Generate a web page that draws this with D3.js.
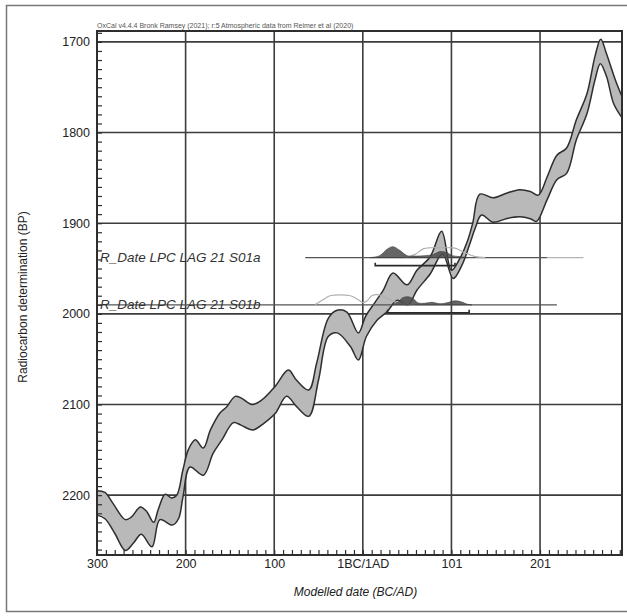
<!DOCTYPE html>
<html>
<head>
<meta charset="utf-8">
<script src="https://cdn.jsdelivr.net/npm/d3@7"></script>
<style>
  html, body { margin: 0; padding: 0; background: #fff; }
  svg { display: block; font-family: "Liberation Sans", Arial, sans-serif; }
</style>
</head>
<body>
<svg id="chart" width="627" height="616"></svg>
<script>
// Calendar axis: years relative to the 1BC/1AD boundary (BC negative)
const xTickValues = [-300, -200, -100, 0, 100, 200];
const xTickLabels = ["300", "200", "100", "1BC/1AD", "101", "201"];
const yTickValues = [1700, 1800, 1900, 2000, 2100, 2200];

// IntCal20 curve envelope, upper (younger) edge: [calendar year, BP]
const curveUpper = [
  [-300,2195],[-291,2197],[-282,2209],[-268,2227],[-261,2224],[-251,2213],[-244,2218],
  [-236,2230],[-231,2216],[-223,2199],[-216,2203],[-210,2200],[-203,2172],[-197,2150],
  [-189,2139],[-180,2148],[-172,2128],[-161,2109],[-154,2103],[-144,2091],[-137,2093],
  [-125,2100],[-114,2095],[-99,2080],[-84,2062],[-75,2073],[-61,2084],[-52,2054],
  [-39,2005],[-29,1996],[-18,1998],[-5,2021],[3,2003],[14,1987],[23,1974],[34,1955],
  [50,1968],[61,1952],[76,1937],[89,1909],[100,1952],[110,1938],[118,1920],[124,1900],
  [132,1868],[147,1872],[162,1867],[177,1863],[189,1865],[198,1869],[208,1849],
  [219,1825],[230,1817],[241,1786],[253,1757],[262,1716],[268.5,1697],[275,1713],
  [285,1742],[292,1759]
];
// lower (older) edge
const curveLower = [
  [-300,2222],[-291,2226],[-280,2242],[-268,2261],[-259,2253],[-250,2243],[-238,2257],
  [-229,2227],[-215,2233],[-208,2226],[-203,2202],[-195,2169],[-180,2178],[-169,2154],
  [-159,2139],[-146,2120],[-137,2123],[-124,2128],[-112,2121],[-99,2110],[-86,2091],
  [-75,2102],[-61,2113],[-50,2073],[-39,2025],[-29,2021],[-14,2036],[-5,2051],[4,2025],
  [16,2007],[27,1998],[39,1985],[51,1990],[61,1974],[76,1956],[90,1934],[102,1961],
  [112,1946],[120,1925],[127,1905],[134,1891],[147,1899],[162,1895],[177,1893],
  [189,1895],[196,1898],[208,1874],[219,1852],[230,1845],[241,1808],[253,1779],
  [262,1742],[268,1724],[275,1738],[283,1768],[292,1783]
];

// Radiocarbon dates
const dateNames = ["R_Date LPC LAG 21 S01a", "R_Date LPC LAG 21 S01b"];
const dateBP = [1938, 1990];
const dateLineFrom = [-65, -300];
const dateLineTo = [208, 219];
const dateTailTo = [249, 219];
const dateRangeFrom = [14, 28];
const dateRangeTo = [104, 120];

// posterior (modelled) probability, relative
const postS01aT = [8,19,28,34,42,50,59,70,79,87,95,101,110,118];
const postS01aP = [0,0.18,0.8,1,0.64,0.18,0.14,0.18,0.27,0.55,0.45,0.18,0.09,0];
const postS01bT = [33,40,45,51,57,62,70,78,87,95,104,111,118,123];
const postS01bP = [0,0.27,0.64,0.73,0.55,0.18,0.14,0.23,0.09,0.18,0.36,0.27,0.05,0];
// likelihood (unmodelled) probability, relative
const likeS01aT = [48,59,68,76,93,104,115,127,138];
const likeS01aP = [0,0.3,0.8,0.9,0.9,0.86,0.45,0.09,0];
const likeS01bT = [-54,-45,-37,-14,-5,0,5,10,19,26,36,48,59];
const likeS01bP = [0,0.45,0.82,0.82,0.45,0.2,0.36,0.82,0.9,0.64,0.27,0.09,0];

const posterior = [d3.zip(postS01aT, postS01aP), d3.zip(postS01bT, postS01bP)];
const likelihood = [d3.zip(likeS01aT, likeS01aP), d3.zip(likeS01bT, likeS01bP)];

const svg = d3.select("#chart");
const W = 627, H = 616;
const pL = 97, pR = 622, pT = 31, pB = 555;

const x = d3.scaleLinear().domain([-300, 292.5]).range([pL, pR]);
const y = d3.scaleLinear().domain([1688, 2266]).range([pT, pB]);
const probH = 11;

svg.append("rect").attr("width", W).attr("height", H).attr("fill", "#fff");
// outer frame
svg.append("rect").attr("x", 6.5).attr("y", 5.5).attr("width", 640).attr("height", 606)
  .attr("fill", "none").attr("stroke", "#777").attr("stroke-width", 1.5);

svg.append("text").attr("x", pL).attr("y", 28)
  .attr("font-size", 7).attr("fill", "#555")
  .text("OxCal v4.4.4 Bronk Ramsey (2021); r:5 Atmospheric data from Reimer et al (2020)");

// grid
const grid = svg.append("g").attr("stroke", "#3c3c3c").attr("stroke-width", 1.6);
grid.selectAll("line.h").data(yTickValues).join("line").attr("class", "h")
  .attr("x1", pL).attr("x2", pR).attr("y1", d => y(d)).attr("y2", d => y(d));
grid.selectAll("line.v").data(xTickValues.slice(1)).join("line").attr("class", "v")
  .attr("y1", pT).attr("y2", pB).attr("x1", d => x(d)).attr("x2", d => x(d));

// calibration curve band
const line = d3.line().x(d => x(d[0])).y(d => y(d[1])).curve(d3.curveCatmullRom.alpha(0.5));
const upPath = line(curveUpper);
const loPath = line(curveLower.slice().reverse());
svg.append("path").attr("d", upPath + "L" + loPath.slice(1) + "Z")
  .attr("fill", "#b9b9b9").attr("stroke", "none");
[upPath, line(curveLower)].forEach(p => svg.append("path").attr("d", p)
  .attr("fill", "none").attr("stroke", "#2e2e2e").attr("stroke-width", 1.5));

// radiocarbon dates
const rows = svg.append("g");
dateNames.forEach((name, i) => {
  const yb = y(dateBP[i]);
  rows.append("line").attr("x1", x(dateLineTo[i])).attr("x2", x(dateTailTo[i]))
    .attr("y1", yb).attr("y2", yb).attr("stroke", "#b5b5b5").attr("stroke-width", 1.2);
  rows.append("line").attr("x1", x(dateLineFrom[i])).attr("x2", x(dateLineTo[i]))
    .attr("y1", yb).attr("y2", yb).attr("stroke", "#555").attr("stroke-width", 1.2);

  const area = d3.area().x(d => x(d[0])).y0(yb).y1(d => yb - d[1] * probH)
    .curve(d3.curveCatmullRom.alpha(0.5));
  const outline = d3.line().x(d => x(d[0])).y(d => yb - d[1] * probH)
    .curve(d3.curveCatmullRom.alpha(0.5));
  rows.append("path").attr("d", outline(likelihood[i]))
    .attr("fill", "none").attr("stroke", "#b0b0b0").attr("stroke-width", 1.2);
  rows.append("path").attr("d", area(posterior[i]))
    .attr("fill", "#4a4a4a").attr("fill-opacity", 0.85).attr("stroke", "#3a3a3a").attr("stroke-width", 0.6);

  const yr = yb + 8;
  rows.append("path")
    .attr("d", `M${x(dateRangeFrom[i])},${yr - 3}V${yr}H${x(dateRangeTo[i])}V${yr - 3}`)
    .attr("fill", "none").attr("stroke", "#2a2a2a").attr("stroke-width", 1.6);

  rows.append("text").attr("x", pL + 3).attr("y", yb + 4.5)
    .attr("font-size", 13.5).attr("font-style", "italic").attr("fill", "#333")
    .text(name);
});

// plot frame
svg.append("rect").attr("x", pL).attr("y", pT).attr("width", pR - pL).attr("height", pB - pT)
  .attr("fill", "none").attr("stroke", "#2e2e2e").attr("stroke-width", 2);

// axes: minor ticks every 10 units, pointing into the plot
const yMinor = svg.append("g").attr("transform", `translate(${pL},0)`)
  .call(d3.axisLeft(y).tickValues(d3.range(1690, 2266, 10)).tickSize(-5).tickFormat(() => ""));
const xMinor = svg.append("g").attr("transform", `translate(0,${pB})`)
  .call(d3.axisBottom(x).tickValues(d3.range(-300, 292, 10)).tickSize(-5).tickFormat(() => ""));
[yMinor, xMinor].forEach(g => {
  g.select(".domain").remove();
  g.selectAll("line").attr("stroke", "#2e2e2e").attr("stroke-width", 1.2);
});

const yAxis = svg.append("g").attr("transform", `translate(${pL},0)`)
  .call(d3.axisLeft(y).tickValues(yTickValues).tickSize(0).tickPadding(7).tickFormat(d3.format("d")));
const xAxis = svg.append("g").attr("transform", `translate(0,${pB})`)
  .call(d3.axisBottom(x).tickValues(xTickValues).tickSize(0).tickPadding(4)
    .tickFormat((d, i) => xTickLabels[i]));
[yAxis, xAxis].forEach(g => {
  g.select(".domain").remove();
  g.selectAll("text").attr("font-size", 12.5).attr("fill", "#222")
    .attr("font-family", "'Liberation Sans', Arial, sans-serif");
});

svg.append("text").attr("x", (pL + pR) / 2 - 4).attr("y", 596)
  .attr("text-anchor", "middle").attr("font-size", 12).attr("font-style", "italic").attr("fill", "#222")
  .text("Modelled date (BC/AD)");
svg.append("text").attr("transform", `translate(27,${(pT + pB) / 2 + 4}) rotate(-90)`)
  .attr("text-anchor", "middle").attr("font-size", 12).attr("fill", "#222")
  .text("Radiocarbon determination (BP)");
</script>
</body>
</html>
